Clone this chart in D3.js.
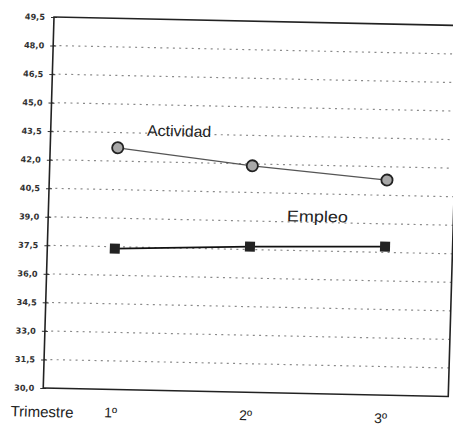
<!DOCTYPE html>
<html><head><meta charset="utf-8">
<script src="https://cdn.jsdelivr.net/npm/d3@7"></script>
<style>body{margin:0;background:#fff}svg{display:block}</style>
</head><body>
<script>
const categories = ["1º","2º","3º"];
const actividad = [42.7, 41.9, 41.3];
const empleo = [37.4, 37.65, 37.8];
const yTicks = [30.0,31.5,33.0,34.5,36.0,37.5,39.0,40.5,42.0,43.5,45.0,46.5,48.0,49.5];
const xTitle = "Trimestre";
const seriesNames = ["Actividad","Empleo"];

const W = 453, H = 425;
const m = {left:54, top:17};
const pw = 405, ph = 371;
const sans = "Arial, 'Liberation Sans', sans-serif";

const svg = d3.select("body").append("svg").attr("width",W).attr("height",H)
  .style("font-family",sans);
svg.append("rect").attr("width",W).attr("height",H).attr("fill","#fff");

// slight skew of the scanned page
const g = svg.append("g").attr("transform",`translate(${m.left},${m.top}) matrix(1,0.021,-0.029,1,0,0)`);

const x = d3.scalePoint().domain(categories).range([0,pw]).padding(0.5);
const y = d3.scaleLinear().domain([30,49.5]).range([ph,0]);
const fmt = v => d3.format(".1f")(v).replace(".",",");

// grid
g.append("g").selectAll("line").data(yTicks.filter(t=>t>30 && t<49.5)).join("line")
  .attr("x1",0).attr("x2",pw).attr("y1",d=>y(d)).attr("y2",d=>y(d))
  .attr("stroke","#8a8a8a").attr("stroke-width",1.2).attr("stroke-dasharray","2,4.3");

// y axis
const ya = g.append("g").call(d3.axisLeft(y).tickValues(yTicks).tickFormat(fmt).tickSize(3).tickPadding(6));
ya.select(".domain").remove();
ya.selectAll(".tick line").attr("x1",-3).attr("x2",3).attr("stroke","#333");
ya.selectAll(".tick text").attr("font-family","'DejaVu Sans', sans-serif").attr("font-size",8.2)
  .attr("font-weight","bold").attr("fill","#333");

// x axis labels
const xa = g.append("g").attr("transform",`translate(0,${ph})`).call(d3.axisBottom(x).tickSize(0).tickPadding(18));
xa.select(".domain").remove();
xa.selectAll(".tick text").attr("font-family",sans).attr("font-size",14).attr("fill","#222");
g.append("text").attr("x",-32).attr("y",ph+29).attr("font-size",15).attr("fill","#222")
  .attr("textLength",63).attr("lengthAdjust","spacingAndGlyphs").text(xTitle);

// frame
g.append("rect").attr("x",0).attr("y",0).attr("width",pw).attr("height",ph)
  .attr("fill","none").attr("stroke","#222").attr("stroke-width",1.6);

const line = d3.line().x((d,i)=>x(categories[i])).y(d=>y(d));

g.append("path").datum(actividad).attr("d",line).attr("fill","none").attr("stroke","#555").attr("stroke-width",1.3);
g.append("path").datum(empleo).attr("d",line).attr("fill","none").attr("stroke","#111").attr("stroke-width",1.8);

g.append("g").selectAll("circle").data(actividad).join("circle")
  .attr("cx",(d,i)=>x(categories[i])).attr("cy",d=>y(d)).attr("r",5.6)
  .attr("fill","#a8a8a8").attr("stroke","#222").attr("stroke-width",1.8);

g.append("g").selectAll("rect").data(empleo).join("rect")
  .attr("x",(d,i)=>x(categories[i])-5).attr("y",d=>y(d)-5).attr("width",10).attr("height",10)
  .attr("fill","#222");

g.append("text").attr("x",x(categories[0])+29).attr("y",y(actividad[0])-12.7)
  .attr("font-size",15.5).attr("fill","#222")
  .attr("textLength",64).attr("lengthAdjust","spacingAndGlyphs").text(seriesNames[0]);
g.append("text").attr("x",x(categories[1])+36).attr("y",y(empleo[1])-26.3)
  .attr("font-size",15.5).attr("fill","#222")
  .attr("textLength",61).attr("lengthAdjust","spacingAndGlyphs").text(seriesNames[1]);
</script>
</body></html>
